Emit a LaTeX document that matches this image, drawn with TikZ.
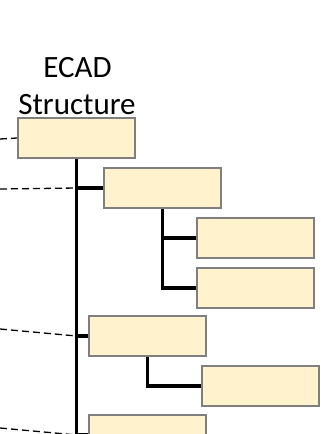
\documentclass[tikz,border=0pt]{standalone}
\usepackage{fontspec}
\setmainfont{Carlito}
\definecolor{boxfill}{HTML}{FFF2CC}
\definecolor{boxedge}{HTML}{7F7F7F}
\begin{document}
\begin{tikzpicture}[x=1pt,y=-1pt,
  box/.style={draw=boxedge, fill=boxfill, line width=2pt, inner sep=0pt,
    minimum width=117pt, minimum height=40pt, anchor=north west},
  conn/.style={line width=3.8pt, black},
  link/.style={line width=1.3pt, dash pattern=on 7pt off 4pt, black},
  title/.style={font=\fontsize{31}{37}\selectfont, anchor=base, inner sep=0pt}]
\useasboundingbox (0,0) rectangle (321,434);
\clip (0,0) rectangle (321,434);
% title
\node[title] (t1) at (77.5,77) {ECAD};
\node[title] (t2) at (77,114) {Structure};
% boxes
\node[box] (b1) at (17,117) {};
\node[box] (b2) at (103,167) {};
\node[box] (b3) at (196,217) {};
\node[box] (b4) at (196,267) {};
\node[box] (b5) at (88,315) {};
\node[box] (b6) at (201,365) {};
\node[box] (b7) at (88,414) {};
% trunk
\coordinate (tend) at (75.5,440);
\coordinate (j2) at (b1.south |- b2.west);
\coordinate (j5) at (b1.south |- b5.west);
\coordinate (j7) at (b1.south |- b7.west);
% dashed links
\coordinate (d1) at (0,139);
\coordinate (d2) at (0,189);
\coordinate (d5) at (0,329);
\coordinate (d7) at (0,428);
\draw[link] (d1) -- (b1.west);
\draw[link] (d2) -- (j2);
\draw[link] (d5) -- (j5);
\draw[link] (d7) -- (j7);
% connectors
\draw[conn] (b1.south) -- (b1.south |- tend);
\draw[conn] (j2) -- (b2.west);
\draw[conn] (j5) -- (b5.west);
\draw[conn] (j7) -- (b7.west);
\draw[conn, line join=miter] (b2.south) |- (b3.west);
\draw[conn, line join=miter] (b2.south) |- (b4.west);
\draw[conn, line join=miter] (b5.south) |- (b6.west);
\end{tikzpicture}
\end{document}
